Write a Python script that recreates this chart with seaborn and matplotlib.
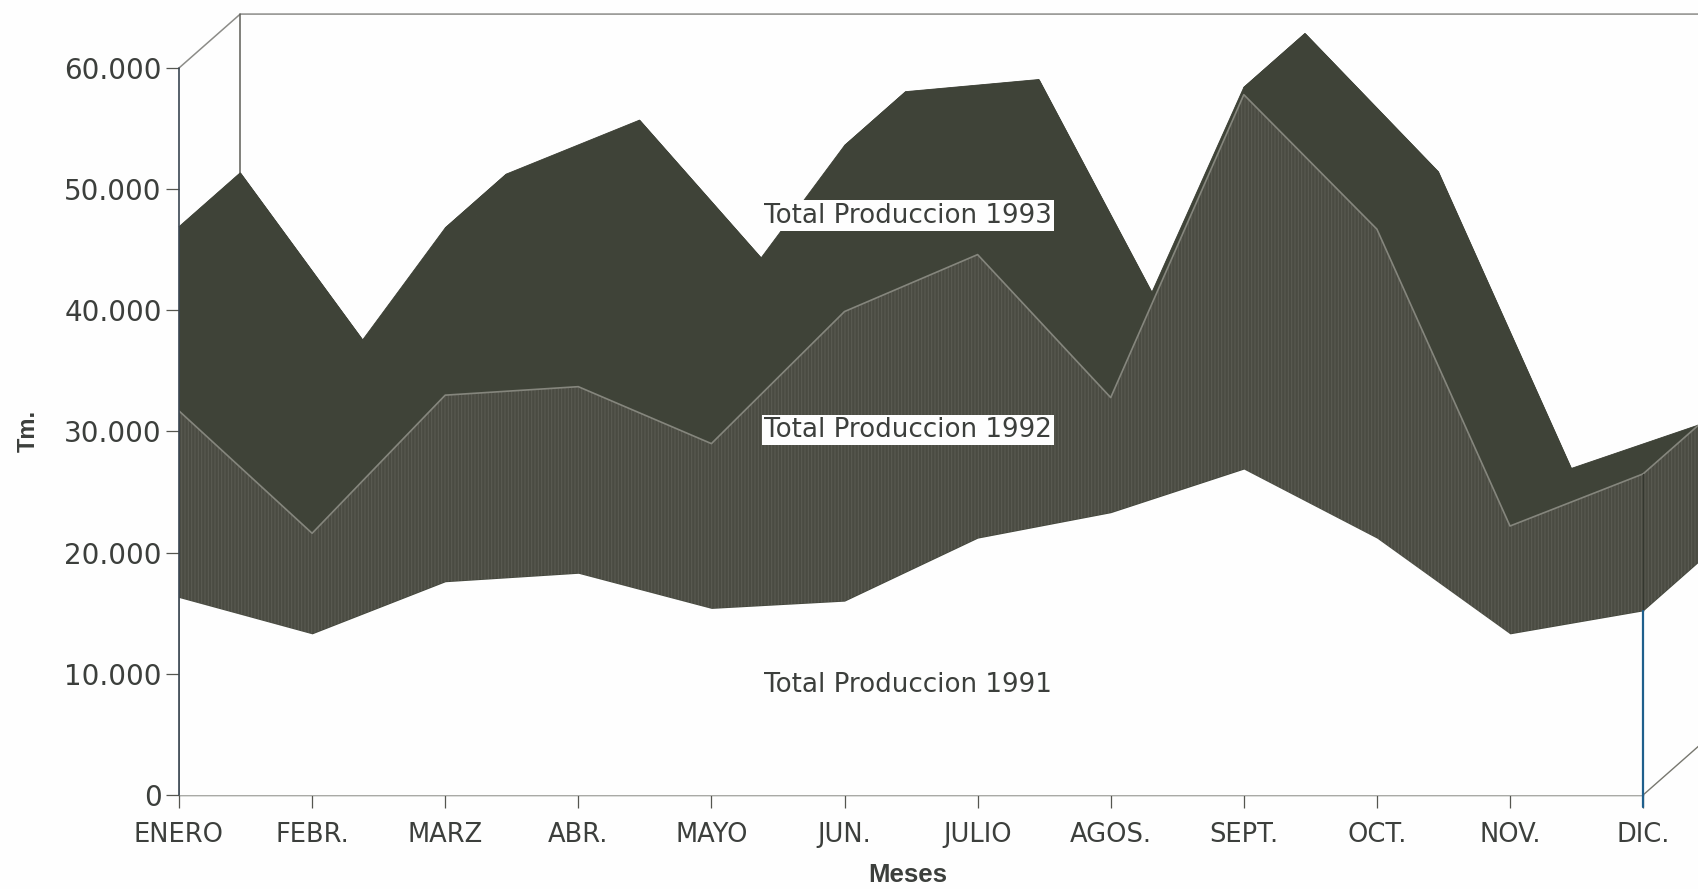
import seaborn as sns
import matplotlib
matplotlib.use("Agg")
import matplotlib.pyplot as plt
import numpy as np
import pandas as pd

meses = ["ENERO", "FEBR.", "MARZ", "ABR.", "MAYO", "JUN.", "JULIO", "AGOS.", "SEPT.", "OCT.", "NOV.", "DIC."]
total_1991 = [16300, 13300, 17600, 18300, 15400, 16000, 21200, 23300, 26900, 21200, 13300, 15200]
total_1992 = [31700, 21600, 33000, 33700, 29000, 39900, 44600, 32800, 57800, 46700, 22200, 26500]
total_1993 = [46900, 31900, 46800, 51250, 38800, 53600, 54600, 33900, 58400, 47000, 22500, 26250]
y_ticks = [0, 10000, 20000, 30000, 40000, 50000, 60000]
y_labels = ["0", "10.000", "20.000", "30.000", "40.000", "50.000", "60.000"]

# shift of the back of the 3D box, in months and in Tm.
dx = 0.46
dy = 4450

dark = "#3f4338"
gray = "#4a4b42"
ink = "#3c3f3c"

sns.set_theme(style="white")
plt.rcParams["font.family"] = ["DejaVu Sans"]
plt.rcParams["hatch.linewidth"] = 0.8

fig = plt.figure(figsize=(16.98, 8.89), dpi=100, facecolor="#fefefe")
ax = fig.add_axes([179 / 1698, (889 - 795) / 889, 1519 / 1698, 727 / 889], facecolor="#fefefe")

x = np.arange(12)
v91 = np.array(total_1991)
v92 = np.array(total_1992)
v93 = np.array(total_1993)

# 1993 ribbon: front, back and the top face between them
ax.fill_between(x, 0, v93, color=dark, lw=0.6, zorder=1)
ax.fill_between(x + dx, dy, v93 + dy, color=dark, lw=0.6, zorder=1, clip_on=False)
for i in range(11):
    ax.fill([x[i], x[i + 1], x[i + 1] + dx, x[i] + dx],
            [v93[i], v93[i + 1], v93[i + 1] + dy, v93[i] + dy],
            color=dark, lw=0.6, zorder=1, clip_on=False)
ax.fill([0, dx, dx, 0], [0, dy, v93[0] + dy, v93[0]], color=dark, lw=0, zorder=1)

# 1992 ribbon with a scanned looking texture
ax.fill_between(x, v91, v92, facecolor=gray, edgecolor="#5a5b52", hatch="|||||", lw=0, zorder=2)
ax.fill_between([11, 11 + dx], [v91[11], v91[11] + dy], [v92[11], v92[11] + dy],
                facecolor=gray, edgecolor="#5a5b52", hatch="|||||", lw=0, zorder=2)

# 1991 ribbon is plain paper
ax.fill_between(x, 0, v91, color="#fefefe", lw=0, zorder=3)
ax.fill_between([11, 11 + dx], [0, dy], [v91[11], v91[11] + dy], color="#fefefe", lw=0, zorder=3)

df_92 = pd.DataFrame({"mes": x, "tm": v92})
sns.lineplot(x="mes", y="tm", data=df_92, color="#85867d", lw=1.2, ax=ax, zorder=4)
ax.plot([11, 11 + dx], [v92[11], v92[11] + dy], color="#85867d", lw=1.2, zorder=4)
ax.plot([11, 11], [v91[11], v92[11]], color="#34372f", lw=1, zorder=4)

# box lines
ax.plot([0, dx, 11.5], [60000, 60000 + dy, 60000 + dy], color="#8c8c88", lw=1.1, zorder=0, clip_on=False)
ax.plot([dx, dx], [v93[0] + dy, 60000 + dy], color="#5e5e58", lw=1.1, zorder=0, clip_on=False)
ax.plot([11, 11 + dx], [0, dy], color="#77776f", lw=1, zorder=4, clip_on=False)
ax.plot([11, 11], [-1000, v91[11]], color="#1f5f8c", lw=1.6, zorder=5, clip_on=False)
ax.plot([0, 0], [0, 60000], color="#3a4652", lw=1.2, zorder=5, clip_on=False)

ax.set_xlim(0, 1519 / 133.1)
ax.set_ylim(0, 60000)
ax.set_xticks(x)
ax.set_xticklabels(meses)
ax.set_yticks(y_ticks)
ax.set_yticklabels(y_labels)
ax.set_xlabel("")
ax.set_ylabel("")
ax.tick_params(axis="both", length=9.5, width=0.9, color="#55564f", labelcolor=ink, bottom=True, left=True)
ax.tick_params(axis="x", pad=10, labelsize=18.5)
ax.tick_params(axis="y", pad=3, labelsize=20)
sns.despine(ax=ax, top=True, right=True, left=True, bottom=False)
ax.spines["bottom"].set_color("#55564f")
ax.spines["bottom"].set_bounds(0, 11)
ax.spines["bottom"].set_linewidth(1)

ax.text(5.48, 47820, "Total Produccion 1993", ha="center", va="center", fontsize=18.8, color=ink, zorder=6,
        bbox=dict(facecolor="#fefefe", edgecolor="none", pad=1.5))
ax.text(5.48, 30100, "Total Produccion 1992", ha="center", va="center", fontsize=18.8, color=ink, zorder=6,
        bbox=dict(facecolor="#fefefe", edgecolor="none", pad=1.5))
ax.text(5.48, 9060, "Total Produccion 1991", ha="center", va="center", fontsize=18.8, color=ink, zorder=6)

fig.text(908 / 1698, 1 - 875 / 889, "Meses", ha="center", va="center", fontsize=18.5, fontweight="bold",
         family="Liberation Sans", color=ink)
fig.text(28 / 1698, 1 - 431 / 889, "Tm.", ha="center", va="center", rotation=90, fontsize=17, fontweight="bold",
         family="Liberation Sans", color=ink)

fig.savefig("out.png", dpi=100, facecolor=fig.get_facecolor())
